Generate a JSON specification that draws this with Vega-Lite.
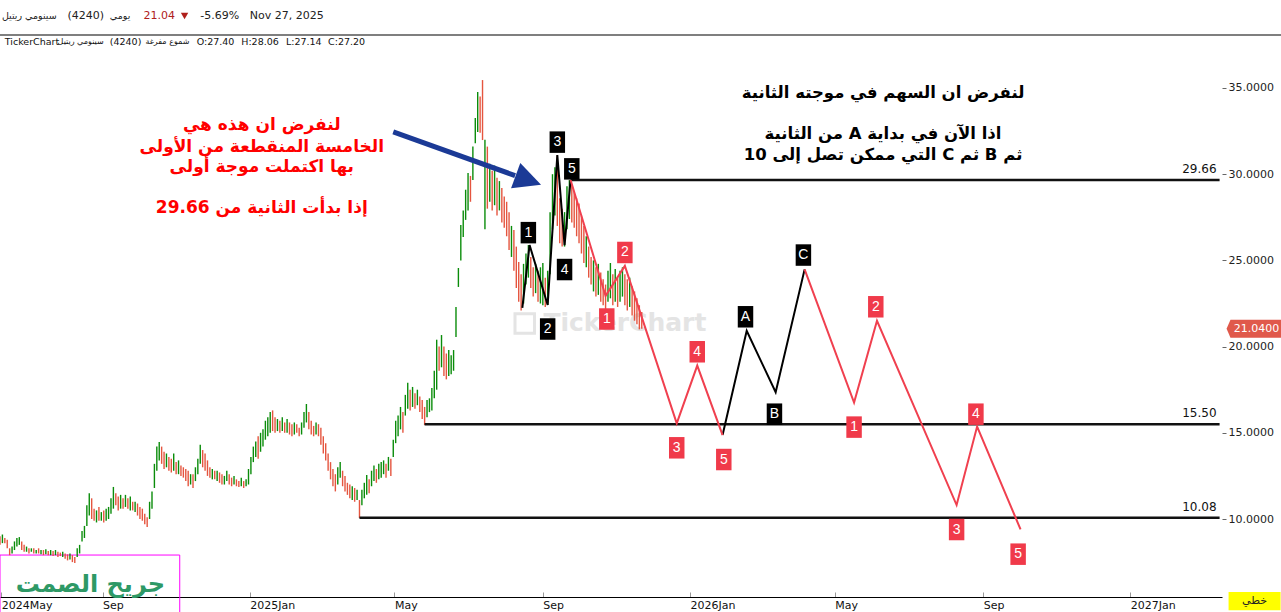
{
"$schema":"https://vega.github.io/schema/vega-lite/v6.json",
"width":1222,"height":562,
"autosize":{"type":"none"},
"padding":{"left":0,"top":35,"right":59,"bottom":15},
"background":"#ffffff",
"config":{"view":{"stroke":null},"font":"DejaVu Sans"},
"datasets":{
"candles":[
{"t":"2024-06-08","p":8.5,"p2":9.0,"u":0},{"t":"2024-06-10","p":8.6,"p2":9.1,"u":1},{"t":"2024-06-12","p":8.6,"p2":8.9,"u":0},{"t":"2024-06-14","p":8.3,"p2":8.8,"u":0},{"t":"2024-06-16","p":7.9,"p2":8.3,"u":0},{"t":"2024-06-18","p":8.0,"p2":8.4,"u":1},{"t":"2024-06-20","p":8.2,"p2":8.7,"u":1},{"t":"2024-06-22","p":8.4,"p2":8.9,"u":1},{"t":"2024-06-24","p":8.5,"p2":8.95,"u":1},{"t":"2024-06-26","p":8.2,"p2":8.7,"u":0},{"t":"2024-06-28","p":8.1,"p2":8.5,"u":0},{"t":"2024-06-30","p":8.1,"p2":8.4,"u":1},
{"t":"2024-07-02","p":8.0,"p2":8.3,"u":0},{"t":"2024-07-04","p":8.1,"p2":8.3,"u":1},{"t":"2024-07-06","p":8.0,"p2":8.3,"u":0},{"t":"2024-07-08","p":8.0,"p2":8.2,"u":1},{"t":"2024-07-10","p":8.0,"p2":8.3,"u":0},{"t":"2024-07-12","p":7.95,"p2":8.2,"u":1},{"t":"2024-07-14","p":7.9,"p2":8.2,"u":0},{"t":"2024-07-16","p":7.95,"p2":8.25,"u":1},{"t":"2024-07-18","p":7.9,"p2":8.15,"u":0},{"t":"2024-07-20","p":7.9,"p2":8.2,"u":1},{"t":"2024-07-22","p":7.85,"p2":8.15,"u":0},{"t":"2024-07-24","p":7.9,"p2":8.2,"u":1},{"t":"2024-07-26","p":7.8,"p2":8.1,"u":0},{"t":"2024-07-28","p":7.85,"p2":8.05,"u":0},{"t":"2024-07-30","p":7.8,"p2":8.1,"u":1},
{"t":"2024-08-01","p":7.7,"p2":8.0,"u":0},{"t":"2024-08-03","p":7.6,"p2":7.95,"u":0},{"t":"2024-08-05","p":7.65,"p2":8.0,"u":1},{"t":"2024-08-07","p":7.5,"p2":7.9,"u":0},{"t":"2024-08-09","p":7.45,"p2":7.8,"u":0},{"t":"2024-08-11","p":7.8,"p2":8.3,"u":1},{"t":"2024-08-13","p":8.0,"p2":8.5,"u":1},{"t":"2024-08-15","p":8.7,"p2":9.3,"u":1},{"t":"2024-08-17","p":8.9,"p2":9.6,"u":1},{"t":"2024-08-19","p":9.6,"p2":10.8,"u":1},{"t":"2024-08-21","p":10.2,"p2":11.5,"u":1},{"t":"2024-08-23","p":10.0,"p2":11.2,"u":0},{"t":"2024-08-25","p":9.9,"p2":10.6,"u":0},{"t":"2024-08-27","p":9.8,"p2":10.5,"u":1},{"t":"2024-08-29","p":9.9,"p2":10.7,"u":0},{"t":"2024-08-31","p":9.9,"p2":10.4,"u":1},
{"t":"2024-09-02","p":9.8,"p2":10.5,"u":0},{"t":"2024-09-04","p":9.9,"p2":10.6,"u":1},{"t":"2024-09-06","p":10.0,"p2":10.7,"u":1},{"t":"2024-09-08","p":10.3,"p2":11.2,"u":1},{"t":"2024-09-10","p":10.6,"p2":11.86,"u":1},{"t":"2024-09-12","p":10.8,"p2":11.5,"u":0},{"t":"2024-09-14","p":10.5,"p2":11.3,"u":0},{"t":"2024-09-16","p":10.6,"p2":11.4,"u":1},{"t":"2024-09-18","p":10.6,"p2":11.2,"u":0},{"t":"2024-09-20","p":10.7,"p2":11.4,"u":1},{"t":"2024-09-22","p":10.6,"p2":11.2,"u":0},{"t":"2024-09-24","p":10.5,"p2":11.3,"u":1},{"t":"2024-09-26","p":10.5,"p2":11.0,"u":0},{"t":"2024-09-28","p":10.4,"p2":11.0,"u":1},{"t":"2024-09-30","p":10.2,"p2":10.9,"u":0},
{"t":"2024-10-02","p":10.0,"p2":10.7,"u":0},{"t":"2024-10-04","p":9.9,"p2":10.6,"u":0},{"t":"2024-10-06","p":9.7,"p2":10.3,"u":0},{"t":"2024-10-08","p":9.54,"p2":10.1,"u":0},{"t":"2024-10-10","p":10.0,"p2":11.0,"u":1},{"t":"2024-10-12","p":10.6,"p2":11.6,"u":1},{"t":"2024-10-14","p":11.8,"p2":13.2,"u":1},{"t":"2024-10-16","p":12.8,"p2":14.2,"u":1},{"t":"2024-10-18","p":13.4,"p2":14.47,"u":1},{"t":"2024-10-20","p":13.2,"p2":14.2,"u":0},{"t":"2024-10-22","p":12.9,"p2":13.9,"u":0},{"t":"2024-10-24","p":13.0,"p2":13.8,"u":1},{"t":"2024-10-26","p":12.8,"p2":13.6,"u":0},{"t":"2024-10-28","p":12.7,"p2":13.5,"u":0},{"t":"2024-10-30","p":12.8,"p2":13.8,"u":1},
{"t":"2024-11-01","p":12.6,"p2":13.3,"u":0},{"t":"2024-11-03","p":12.6,"p2":13.4,"u":1},{"t":"2024-11-05","p":12.5,"p2":13.1,"u":0},{"t":"2024-11-07","p":12.4,"p2":13.0,"u":0},{"t":"2024-11-09","p":12.2,"p2":12.9,"u":0},{"t":"2024-11-11","p":11.9,"p2":12.8,"u":0},{"t":"2024-11-13","p":12.0,"p2":12.6,"u":1},{"t":"2024-11-15","p":11.8,"p2":12.6,"u":0},{"t":"2024-11-17","p":12.2,"p2":13.0,"u":1},{"t":"2024-11-19","p":12.6,"p2":13.5,"u":1},{"t":"2024-11-21","p":13.2,"p2":14.3,"u":1},{"t":"2024-11-23","p":13.0,"p2":14.0,"u":0},{"t":"2024-11-25","p":12.8,"p2":13.8,"u":0},{"t":"2024-11-27","p":12.5,"p2":13.4,"u":0},{"t":"2024-11-29","p":12.4,"p2":13.0,"u":0},
{"t":"2024-12-01","p":12.3,"p2":12.9,"u":1},{"t":"2024-12-03","p":12.3,"p2":12.8,"u":0},{"t":"2024-12-05","p":12.2,"p2":12.8,"u":1},{"t":"2024-12-07","p":12.1,"p2":12.7,"u":0},{"t":"2024-12-09","p":12.0,"p2":12.6,"u":0},{"t":"2024-12-11","p":12.0,"p2":12.5,"u":1},{"t":"2024-12-13","p":12.2,"p2":12.8,"u":1},{"t":"2024-12-15","p":12.0,"p2":12.6,"u":0},{"t":"2024-12-17","p":11.9,"p2":12.4,"u":0},{"t":"2024-12-19","p":12.0,"p2":12.5,"u":1},{"t":"2024-12-21","p":11.9,"p2":12.3,"u":0},{"t":"2024-12-23","p":11.85,"p2":12.2,"u":0},{"t":"2024-12-25","p":11.9,"p2":12.4,"u":1},{"t":"2024-12-27","p":11.8,"p2":12.2,"u":0},{"t":"2024-12-29","p":11.9,"p2":12.3,"u":1},{"t":"2024-12-31","p":12.0,"p2":12.9,"u":1},
{"t":"2025-01-02","p":12.6,"p2":13.6,"u":1},{"t":"2025-01-04","p":13.3,"p2":14.2,"u":1},{"t":"2025-01-06","p":13.6,"p2":14.5,"u":1},{"t":"2025-01-08","p":13.5,"p2":14.8,"u":0},{"t":"2025-01-10","p":13.9,"p2":15.0,"u":1},{"t":"2025-01-12","p":14.2,"p2":15.2,"u":1},{"t":"2025-01-14","p":14.6,"p2":15.7,"u":1},{"t":"2025-01-16","p":14.8,"p2":15.9,"u":1},{"t":"2025-01-18","p":15.0,"p2":16.2,"u":1},{"t":"2025-01-20","p":15.1,"p2":16.3,"u":0},{"t":"2025-01-22","p":15.0,"p2":15.9,"u":0},{"t":"2025-01-24","p":15.1,"p2":15.8,"u":1},{"t":"2025-01-26","p":15.0,"p2":15.7,"u":0},{"t":"2025-01-28","p":15.1,"p2":15.9,"u":1},{"t":"2025-01-30","p":15.0,"p2":15.6,"u":0},
{"t":"2025-02-01","p":15.0,"p2":15.8,"u":1},{"t":"2025-02-03","p":14.9,"p2":15.6,"u":0},{"t":"2025-02-05","p":14.8,"p2":15.5,"u":0},{"t":"2025-02-07","p":14.9,"p2":15.6,"u":1},{"t":"2025-02-09","p":15.0,"p2":15.5,"u":0},{"t":"2025-02-11","p":14.8,"p2":15.3,"u":0},{"t":"2025-02-13","p":14.9,"p2":15.6,"u":1},{"t":"2025-02-15","p":15.3,"p2":16.2,"u":1},{"t":"2025-02-17","p":15.6,"p2":16.67,"u":1},{"t":"2025-02-19","p":15.2,"p2":16.2,"u":0},{"t":"2025-02-21","p":14.9,"p2":15.7,"u":0},{"t":"2025-02-23","p":14.8,"p2":15.4,"u":0},{"t":"2025-02-25","p":14.9,"p2":15.6,"u":1},{"t":"2025-02-27","p":14.8,"p2":15.5,"u":0},
{"t":"2025-03-01","p":14.3,"p2":15.3,"u":0},{"t":"2025-03-03","p":13.8,"p2":14.8,"u":0},{"t":"2025-03-05","p":13.4,"p2":14.4,"u":0},{"t":"2025-03-07","p":12.8,"p2":13.8,"u":0},{"t":"2025-03-09","p":12.3,"p2":13.3,"u":0},{"t":"2025-03-11","p":11.9,"p2":12.9,"u":0},{"t":"2025-03-13","p":11.6,"p2":12.6,"u":0},{"t":"2025-03-15","p":12.0,"p2":13.0,"u":1},{"t":"2025-03-17","p":12.4,"p2":13.3,"u":1},{"t":"2025-03-19","p":11.9,"p2":12.8,"u":0},{"t":"2025-03-21","p":11.6,"p2":12.5,"u":0},{"t":"2025-03-23","p":11.4,"p2":12.1,"u":0},{"t":"2025-03-25","p":11.2,"p2":12.0,"u":0},{"t":"2025-03-27","p":11.1,"p2":11.9,"u":1},{"t":"2025-03-29","p":11.0,"p2":11.8,"u":0},{"t":"2025-03-31","p":11.1,"p2":11.7,"u":1},
{"t":"2025-04-02","p":10.06,"p2":11.1,"u":0},{"t":"2025-04-04","p":10.8,"p2":11.7,"u":1},{"t":"2025-04-06","p":11.2,"p2":12.1,"u":1},{"t":"2025-04-08","p":11.4,"p2":12.55,"u":1},{"t":"2025-04-10","p":11.5,"p2":12.3,"u":0},{"t":"2025-04-12","p":11.9,"p2":12.8,"u":1},{"t":"2025-04-14","p":12.2,"p2":13.1,"u":1},{"t":"2025-04-16","p":12.1,"p2":12.9,"u":0},{"t":"2025-04-18","p":12.3,"p2":13.2,"u":1},{"t":"2025-04-20","p":12.4,"p2":13.3,"u":1},{"t":"2025-04-22","p":12.6,"p2":13.4,"u":1},{"t":"2025-04-24","p":12.4,"p2":13.2,"u":0},{"t":"2025-04-26","p":12.8,"p2":13.6,"u":1},{"t":"2025-04-28","p":12.5,"p2":13.5,"u":0},{"t":"2025-04-30","p":13.6,"p2":14.6,"u":1},
{"t":"2025-05-02","p":14.4,"p2":15.7,"u":1},{"t":"2025-05-04","p":14.8,"p2":16.0,"u":1},{"t":"2025-05-06","p":15.2,"p2":16.5,"u":1},{"t":"2025-05-08","p":15.0,"p2":16.2,"u":0},{"t":"2025-05-10","p":16.0,"p2":17.2,"u":1},{"t":"2025-05-12","p":16.4,"p2":17.9,"u":1},{"t":"2025-05-14","p":16.3,"p2":17.5,"u":0},{"t":"2025-05-16","p":16.5,"p2":17.66,"u":1},{"t":"2025-05-18","p":16.4,"p2":17.3,"u":0},{"t":"2025-05-20","p":16.6,"p2":17.5,"u":1},{"t":"2025-05-22","p":16.2,"p2":17.1,"u":0},{"t":"2025-05-24","p":15.8,"p2":16.9,"u":0},{"t":"2025-05-26","p":15.45,"p2":16.5,"u":0},{"t":"2025-05-28","p":15.9,"p2":16.9,"u":1},{"t":"2025-05-30","p":16.2,"p2":17.0,"u":1},
{"t":"2025-06-01","p":16.3,"p2":17.6,"u":1},{"t":"2025-06-03","p":17.0,"p2":18.6,"u":1},{"t":"2025-06-05","p":17.5,"p2":20.4,"u":1},{"t":"2025-06-07","p":18.6,"p2":20.0,"u":0},{"t":"2025-06-09","p":18.8,"p2":20.67,"u":1},{"t":"2025-06-11","p":18.3,"p2":20.0,"u":0},{"t":"2025-06-13","p":18.1,"p2":19.6,"u":0},{"t":"2025-06-15","p":18.3,"p2":19.8,"u":1},{"t":"2025-06-17","p":18.4,"p2":19.5,"u":1},{"t":"2025-06-19","p":18.6,"p2":19.8,"u":1},{"t":"2025-06-21","p":20.56,"p2":22.3,"u":1},{"t":"2025-06-23","p":23.46,"p2":24.56,"u":1},{"t":"2025-06-25","p":25.0,"p2":27.05,"u":1},{"t":"2025-06-27","p":26.36,"p2":27.9,"u":1},{"t":"2025-06-29","p":27.35,"p2":29.1,"u":1},
{"t":"2025-07-01","p":27.9,"p2":30.07,"u":1},{"t":"2025-07-03","p":28.4,"p2":29.9,"u":0},{"t":"2025-07-05","p":29.66,"p2":31.6,"u":1},{"t":"2025-07-07","p":31.8,"p2":33.26,"u":1},{"t":"2025-07-09","p":32.45,"p2":34.77,"u":1},{"t":"2025-07-11","p":32.4,"p2":34.5,"u":0},{"t":"2025-07-13","p":31.98,"p2":35.46,"u":0},{"t":"2025-07-15","p":26.8,"p2":32.0,"u":1},{"t":"2025-07-17","p":28.0,"p2":31.6,"u":0},{"t":"2025-07-19","p":28.4,"p2":30.6,"u":1},{"t":"2025-07-21","p":27.9,"p2":30.2,"u":0},{"t":"2025-07-23","p":28.2,"p2":30.5,"u":1},{"t":"2025-07-25","p":27.6,"p2":29.8,"u":0},{"t":"2025-07-27","p":27.9,"p2":29.6,"u":1},{"t":"2025-07-29","p":27.2,"p2":29.2,"u":0},{"t":"2025-07-31","p":26.9,"p2":28.7,"u":0},
{"t":"2025-08-02","p":26.4,"p2":28.4,"u":0},{"t":"2025-08-04","p":25.6,"p2":27.8,"u":0},{"t":"2025-08-06","p":25.2,"p2":27.0,"u":1},{"t":"2025-08-08","p":24.4,"p2":26.76,"u":0},{"t":"2025-08-10","p":23.4,"p2":25.8,"u":0},{"t":"2025-08-12","p":22.6,"p2":24.9,"u":0},{"t":"2025-08-14","p":22.1,"p2":24.2,"u":0},{"t":"2025-08-16","p":22.5,"p2":24.8,"u":1},{"t":"2025-08-18","p":23.6,"p2":25.4,"u":1},{"t":"2025-08-20","p":24.0,"p2":25.89,"u":1},{"t":"2025-08-22","p":23.4,"p2":25.2,"u":0},{"t":"2025-08-24","p":22.9,"p2":24.6,"u":0},{"t":"2025-08-26","p":23.1,"p2":24.8,"u":1},{"t":"2025-08-28","p":22.6,"p2":24.4,"u":0},{"t":"2025-08-30","p":22.5,"p2":24.6,"u":1},
{"t":"2025-09-01","p":22.4,"p2":24.85,"u":1},{"t":"2025-09-03","p":22.3,"p2":24.0,"u":0},{"t":"2025-09-05","p":22.41,"p2":24.4,"u":1},{"t":"2025-09-07","p":24.2,"p2":27.8,"u":1},{"t":"2025-09-09","p":26.8,"p2":30.0,"u":1},{"t":"2025-09-11","p":27.6,"p2":30.4,"u":1},{"t":"2025-09-13","p":27.0,"p2":31.1,"u":0},{"t":"2025-09-15","p":26.0,"p2":28.6,"u":0},{"t":"2025-09-17","p":25.8,"p2":28.0,"u":0},{"t":"2025-09-19","p":25.8,"p2":27.8,"u":1},{"t":"2025-09-21","p":26.8,"p2":29.3,"u":1},{"t":"2025-09-23","p":27.4,"p2":29.66,"u":1},{"t":"2025-09-25","p":27.2,"p2":29.4,"u":0},{"t":"2025-09-27","p":26.9,"p2":29.0,"u":0},{"t":"2025-09-29","p":26.4,"p2":28.6,"u":0},
{"t":"2025-10-01","p":26.0,"p2":28.3,"u":0},{"t":"2025-10-03","p":25.4,"p2":27.6,"u":0},{"t":"2025-10-05","p":24.85,"p2":27.0,"u":0},{"t":"2025-10-07","p":24.6,"p2":26.4,"u":1},{"t":"2025-10-09","p":24.0,"p2":25.8,"u":0},{"t":"2025-10-11","p":23.6,"p2":25.2,"u":0},{"t":"2025-10-13","p":23.2,"p2":25.0,"u":1},{"t":"2025-10-15","p":22.9,"p2":24.6,"u":0},{"t":"2025-10-17","p":23.0,"p2":24.8,"u":1},{"t":"2025-10-19","p":22.6,"p2":24.3,"u":0},{"t":"2025-10-21","p":22.4,"p2":23.9,"u":0},{"t":"2025-10-23","p":22.1,"p2":23.6,"u":0},{"t":"2025-10-25","p":22.6,"p2":24.4,"u":1},{"t":"2025-10-27","p":22.8,"p2":24.85,"u":1},{"t":"2025-10-29","p":22.4,"p2":24.2,"u":0},{"t":"2025-10-31","p":22.6,"p2":24.5,"u":1},
{"t":"2025-11-02","p":22.3,"p2":24.0,"u":0},{"t":"2025-11-04","p":22.6,"p2":24.4,"u":1},{"t":"2025-11-06","p":22.9,"p2":24.6,"u":1},{"t":"2025-11-08","p":22.4,"p2":24.2,"u":0},{"t":"2025-11-10","p":22.1,"p2":23.9,"u":0},{"t":"2025-11-12","p":22.3,"p2":24.0,"u":1},{"t":"2025-11-14","p":21.8,"p2":23.5,"u":0},{"t":"2025-11-16","p":21.5,"p2":23.2,"u":0},{"t":"2025-11-18","p":21.3,"p2":22.8,"u":0},{"t":"2025-11-20","p":21.0,"p2":22.4,"u":0},{"t":"2025-11-22","p":21.04,"p2":22.0,"u":0}
],
"waveBlack":[{"t":"2025-08-15","p":22.24,"g":1},{"t":"2025-08-21","p":25.89,"g":1},{"t":"2025-09-05","p":22.41,"g":1},{"t":"2025-09-13","p":31.11,"g":1},{"t":"2025-09-19","p":25.89,"g":1},{"t":"2025-09-24","p":29.66,"g":1},{"t":"2026-01-28","p":14.87,"g":2},{"t":"2026-02-17","p":20.92,"g":2},{"t":"2026-03-13","p":17.35,"g":2},{"t":"2026-04-06","p":24.48,"g":2}],
"waveRed":[{"t":"2025-09-24","p":29.66,"g":1},{"t":"2025-10-23","p":22.94,"g":1},{"t":"2025-11-08","p":24.68,"g":1},{"t":"2025-12-21","p":15.55,"g":1},{"t":"2026-01-07","p":18.9,"g":1},{"t":"2026-01-28","p":14.87,"g":1},{"t":"2026-04-06","p":24.48,"g":2},{"t":"2026-05-17","p":16.75,"g":2},{"t":"2026-06-05","p":21.5,"g":2},{"t":"2026-08-10","p":10.81,"g":2},{"t":"2026-08-27","p":15.36,"g":2},{"t":"2026-10-02","p":9.4,"g":2}],
"blackLabels":[{"t":"2025-08-20","p":26.61,"s":"1"},{"t":"2025-09-05","p":21.02,"s":"2"},{"t":"2025-09-13","p":31.86,"s":"3"},{"t":"2025-09-19","p":24.47,"s":"4"},{"t":"2025-09-25","p":30.31,"s":"5"},{"t":"2026-02-16","p":21.73,"s":"A"},{"t":"2026-03-12","p":16.08,"s":"B"},{"t":"2026-04-05","p":25.31,"s":"C"}],
"redLabels":[{"t":"2025-10-24","p":21.6,"s":"1"},{"t":"2025-11-08","p":25.46,"s":"2"},{"t":"2025-12-21","p":14.13,"s":"3"},{"t":"2026-01-07","p":19.7,"s":"4"},{"t":"2026-01-29","p":13.45,"s":"5"},{"t":"2026-05-17","p":15.33,"s":"1"},{"t":"2026-06-04","p":22.31,"s":"2"},{"t":"2026-08-10","p":9.39,"s":"3"},{"t":"2026-08-26","p":16.08,"s":"4"},{"t":"2026-09-30","p":7.96,"s":"5"}],
"levels":[{"t":"2025-09-24","t2":"2027-03-16","p":29.66},{"t":"2025-05-26","t2":"2027-03-16","p":15.5},{"t":"2025-04-02","t2":"2027-03-16","p":10.08}],
"levelLabels":[{"t":"2027-03-16","p":29.66,"s":"29.66"},{"t":"2027-03-16","p":15.5,"s":"15.50"},{"t":"2027-03-16","p":10.08,"s":"10.08"}],
"frame":[{"t":"2024-06-08","t2":"2027-05-10","p":38.074}],
"arrow":[{"t":"2025-04-30","p":32.45,"t2":"2025-08-09","p2":29.92}],
"arrowHead":[{"t":"2025-08-20","p":29.65}],
"noteRed":[{"t":"2025-01-11","p":32.85,"s":"\u202Bلنفرض ان هذه هي\u202C"},{"t":"2025-01-11","p":31.6,"s":"\u202Bالخامسة المنقطعة من الأولى\u202C"},{"t":"2025-01-11","p":30.42,"s":"\u202Bبها اكتملت موجة أولى\u202C"},{"t":"2025-01-11","p":28.04,"s":"\u202Bإذا بدأت الثانية من 29.66\u202C"}],
"noteBlack":[{"t":"2026-06-10","p":34.71,"s":"\u202Bلنفرض ان السهم في موجته الثانية\u202C"},{"t":"2026-06-10","p":32.33,"s":"\u202Bاذا الآن في بداية A  من الثانية\u202C"},{"t":"2026-06-10","p":31.11,"s":"\u202Bثم B  ثم  C  التي ممكن تصل إلى 10\u202C"}],
"wm":[{"t":"2025-11-08","p":21.37,"s":"TickerChart"}],
"wmLogo":[{"t":"2025-08-17","p":21.34}],
"sigBox":[{"t":"2024-06-08","t2":"2024-11-04","p":7.91,"p2":3.0}],
"sig":[{"t":"2024-08-22","p":6.17,"s":"جريح الصمت"}],
"hdr1":[{"t":"2024-08-03","p":39.18,"s":"(4240)"},{"t":"2024-11-21","p":39.18,"s":"-5.69%"},{"t":"2025-01-01","p":39.18,"s":"Nov 27, 2025"}],
"hdr1ar":[{"t":"2024-07-25","p":39.18,"s":"سينومي ريتيل"},{"t":"2024-09-24","p":39.18,"s":"يومي"}],
"hdrRed":[{"t":"2024-10-05","p":39.18,"s":"21.04"}],
"hdrTri":[{"t":"2024-11-08","p":39.18}],
"hdr2":[{"t":"2024-06-12","p":37.69,"s":"TickerChart"},{"t":"2024-09-07","p":37.69,"s":"(4240)"},{"t":"2024-11-18","p":37.69,"s":"O:27.40"},{"t":"2024-12-25","p":37.69,"s":"H:28.06"},{"t":"2025-01-31","p":37.69,"s":"L:27.14"},{"t":"2025-03-07","p":37.69,"s":"C:27.20"}],
"hdr2ar":[{"t":"2024-09-02","p":37.69,"s":"سينومي ريتيل"},{"t":"2024-11-12","p":37.69,"s":"شموع مفرغة"}],
"priceTag":[{"t":"2027-04-14","p":21.04,"s":"21.0400"}],
"scaleBox":[{"t":"2027-04-14","p":5.24,"s":"خطي"}]
},
"encoding":{
"x":{"field":"t","type":"temporal",
 "scale":{"domain":[{"year":2024,"month":6,"date":8},{"year":2027,"month":3,"date":18}]},
 "axis":{"title":null,"grid":false,"domain":true,"domainColor":"#000000","domainWidth":1.2,"ticks":true,"tickSize":-5,"tickColor":"#999999",
  "values":[{"year":2024,"month":6,"date":9},{"year":2024,"month":9,"date":1},{"year":2025,"month":1,"date":1},{"year":2025,"month":5,"date":1},{"year":2025,"month":9,"date":1},{"year":2026,"month":1,"date":1},{"year":2026,"month":5,"date":1},{"year":2026,"month":9,"date":1},{"year":2027,"month":1,"date":1}],
  "labelExpr":"month(datum.value)==0 ? timeFormat(datum.value,'%Y%b') : (month(datum.value)==5 ? '2024May' : timeFormat(datum.value,'%b'))",
  "labelAlign":"left","labelBaseline":"top","labelPadding":7,"labelFlush":false,"labelOverlap":false,"labelFont":"DejaVu Sans","labelFontSize":11,"labelColor":"#111111"}},
"y":{"field":"p","type":"quantitative",
 "scale":{"domain":[5.476,38.074],"zero":false,"nice":false},
 "axis":{"orient":"right","title":null,"grid":false,"domain":false,"values":[10,15,20,25,30,35],"format":".4f","tickSize":4,"tickColor":"#666666","labelPadding":2,"labelFont":"DejaVu Sans","labelFontSize":11,"labelColor":"#222222"}}
},
"layer":[
{"data":{"name":"wm"},"mark":{"type":"text","font":"DejaVu Sans","fontWeight":"bold","fontSize":25,"color":"#e4e4e4","align":"center","baseline":"middle"},"encoding":{"text":{"field":"s"}}},
{"data":{"name":"wmLogo"},"mark":{"type":"point","shape":"square","size":380,"filled":false,"strokeWidth":3,"color":"#e4e4e4","opacity":1}},
{"data":{"name":"sigBox"},"mark":{"type":"rect","fill":"transparent","stroke":"#ff00ff","strokeWidth":1},"encoding":{"x2":{"field":"t2"},"y2":{"field":"p2"}}},
{"data":{"name":"candles"},"mark":{"type":"rule","strokeWidth":1.4},"encoding":{"y2":{"field":"p2"},"color":{"condition":{"test":"datum.u==1","value":"#0a8c0a"},"value":"#e5553f"}}},
{"data":{"name":"levels"},"mark":{"type":"rule","strokeWidth":2.5,"color":"#111111"},"encoding":{"x2":{"field":"t2"}}},
{"data":{"name":"levelLabels"},"mark":{"type":"text","align":"right","baseline":"bottom","dx":-3,"dy":-4,"font":"DejaVu Sans","fontSize":12,"color":"#111111"},"encoding":{"text":{"field":"s"}}},
{"data":{"name":"frame"},"mark":{"type":"rule","strokeWidth":1.2,"color":"#000000"},"encoding":{"x2":{"field":"t2"}}},
{"data":{"name":"waveBlack"},"mark":{"type":"line","color":"#000000","strokeWidth":2},"encoding":{"detail":{"field":"g","type":"nominal"}}},
{"data":{"name":"waveRed"},"mark":{"type":"line","color":"#f0404f","strokeWidth":2},"encoding":{"detail":{"field":"g","type":"nominal"}}},
{"data":{"name":"arrow"},"mark":{"type":"rule","color":"#1b3a96","strokeWidth":5},"encoding":{"x2":{"field":"t2"},"y2":{"field":"p2"}}},
{"data":{"name":"arrowHead"},"mark":{"type":"point","shape":"M1,0L-1,-1L-1,1Z","size":729,"angle":20,"filled":true,"color":"#1b3a96","opacity":1}},
{"data":{"name":"blackLabels"},"mark":{"type":"point","shape":"M-0.72,-1H0.72V1H-0.72Z","size":462,"filled":true,"color":"#000000","opacity":1}},
{"data":{"name":"blackLabels"},"mark":{"type":"text","font":"Liberation Sans","fontSize":14,"color":"#ffffff","align":"center","baseline":"middle"},"encoding":{"text":{"field":"s"}}},
{"data":{"name":"redLabels"},"mark":{"type":"point","shape":"M-0.72,-1H0.72V1H-0.72Z","size":462,"filled":true,"color":"#f03a4a","opacity":1}},
{"data":{"name":"redLabels"},"mark":{"type":"text","font":"Liberation Sans","fontSize":14,"color":"#ffffff","align":"center","baseline":"middle"},"encoding":{"text":{"field":"s"}}},
{"data":{"name":"noteRed"},"mark":{"type":"text","font":"DejaVu Sans","fontWeight":"bold","fontSize":17,"color":"#ff0000","align":"center","baseline":"middle"},"encoding":{"text":{"field":"s"}}},
{"data":{"name":"noteBlack"},"mark":{"type":"text","font":"DejaVu Sans","fontWeight":"bold","fontSize":16.5,"color":"#000000","align":"center","baseline":"middle"},"encoding":{"text":{"field":"s"}}},
{"data":{"name":"hdr1"},"mark":{"type":"text","font":"DejaVu Sans","fontSize":11,"color":"#222222","align":"left","baseline":"middle"},"encoding":{"text":{"field":"s"}}},
{"data":{"name":"hdr1ar"},"mark":{"type":"text","font":"DejaVu Sans","fontSize":9.5,"color":"#222222","align":"right","baseline":"middle"},"encoding":{"text":{"field":"s"}}},
{"data":{"name":"hdrRed"},"mark":{"type":"text","font":"DejaVu Sans","fontSize":11,"color":"#b0201c","align":"left","baseline":"middle"},"encoding":{"text":{"field":"s"}}},
{"data":{"name":"hdrTri"},"mark":{"type":"point","shape":"triangle-down","size":55,"filled":true,"color":"#b0201c","opacity":1}},
{"data":{"name":"hdr2"},"mark":{"type":"text","font":"DejaVu Sans","fontSize":9.5,"color":"#111111","align":"left","baseline":"middle"},"encoding":{"text":{"field":"s"}}},
{"data":{"name":"hdr2ar"},"mark":{"type":"text","font":"DejaVu Sans","fontSize":8,"color":"#111111","align":"right","baseline":"middle"},"encoding":{"text":{"field":"s"}}},
{"data":{"name":"priceTag"},"mark":{"type":"point","shape":"M-1,0L-0.86,-0.32H1V0.32H-0.86Z","size":3136,"filled":true,"color":"#e0594b","opacity":1}},
{"data":{"name":"priceTag"},"mark":{"type":"text","font":"DejaVu Sans","fontSize":11,"color":"#ffffff","align":"center","baseline":"middle","dx":2},"encoding":{"text":{"field":"s"}}},
{"data":{"name":"scaleBox"},"mark":{"type":"point","shape":"M-1,-0.35H1V0.35H-1Z","size":2704,"filled":true,"color":"#ffff00","opacity":1}},
{"data":{"name":"scaleBox"},"mark":{"type":"text","font":"DejaVu Sans","fontSize":11,"color":"#222222","align":"center","baseline":"middle"},"encoding":{"text":{"field":"s"}}},
{"data":{"name":"sig"},"mark":{"type":"text","font":"DejaVu Sans","fontWeight":"bold","fontSize":24,"color":"#2e9966","align":"center","baseline":"middle"},"encoding":{"text":{"field":"s"}}}
]
}
